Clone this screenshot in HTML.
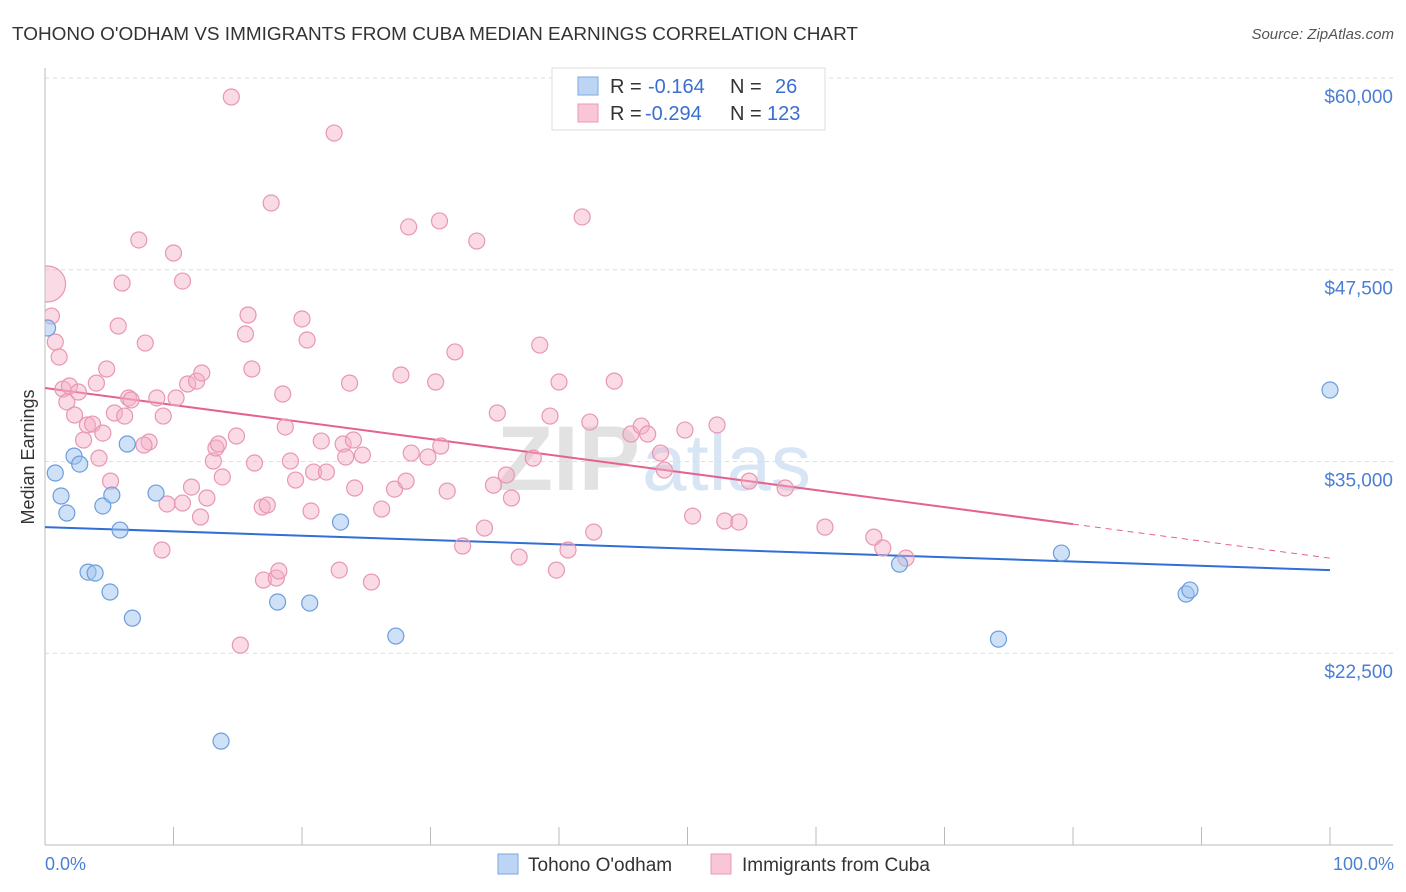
<!DOCTYPE html>
<html><head><meta charset="utf-8">
<style>
body{margin:0;background:#fff;font-family:"Liberation Sans",sans-serif;}
svg{display:block}
</style></head>
<body>
<svg id="chart" width="1406" height="892">
<defs><clipPath id="plotclip"><rect x="45" y="60" width="1360" height="790"/></clipPath></defs>
<text x="12" y="40" font-size="18" fill="#333" textLength="846" lengthAdjust="spacingAndGlyphs">TOHONO O'ODHAM VS IMMIGRANTS FROM CUBA MEDIAN EARNINGS CORRELATION CHART</text>
<text x="1394" y="39" font-size="15" fill="#555" text-anchor="end" font-style="italic">Source: ZipAtlas.com</text>
<text x="640" y="490" font-size="92" fill="#e2e2e2" font-weight="bold" text-anchor="end">ZIP</text>
<text x="642" y="490" font-size="80" fill="#d8e5f5">atlas</text>
<g id="grid"></g>
<g id="axes"></g>
<g id="trend"></g>
<g id="points" clip-path="url(#plotclip)"></g>
<text transform="translate(34,457) rotate(-90)" font-size="18" fill="#333" text-anchor="middle">Median Earnings</text>
<text x="45" y="870" font-size="18" fill="#4a7fd4">0.0%</text>
<text x="1394" y="870" font-size="18" fill="#4a7fd4" text-anchor="end">100.0%</text>
<g>
<rect x="552" y="68" width="273" height="62" fill="#fff" stroke="#ddd"/>
<rect x="578" y="77" width="20" height="18" fill="#bcd5f5" stroke="#7aa6e0"/>
<rect x="578" y="104" width="20" height="18" fill="#f8c6d6" stroke="#e99ab5"/>
<text x="610" y="93" font-size="20" fill="#333">R =</text>
<text x="648" y="93" font-size="20" fill="#3a6fd0">-0.164</text>
<text x="730" y="93" font-size="20" fill="#333">N =</text>
<text x="775" y="93" font-size="20" fill="#3a6fd0">26</text>
<text x="610" y="120" font-size="20" fill="#333">R =</text>
<text x="645" y="120" font-size="20" fill="#3a6fd0">-0.294</text>
<text x="730" y="120" font-size="20" fill="#333">N =</text>
<text x="767" y="120" font-size="20" fill="#3a6fd0">123</text>
</g>
<g>
<rect x="498" y="854" width="20" height="20" fill="#bcd5f5" stroke="#7aa6e0"/>
<text x="528" y="871" font-size="19" fill="#333">Tohono O'odham</text>
<rect x="711" y="854" width="20" height="20" fill="#f8c6d6" stroke="#e99ab5"/>
<text x="742" y="871" font-size="19" fill="#333">Immigrants from Cuba</text>
</g>
</svg>
<script>
const yTicks=[22500,35000,47500,60000];
const yTickLabels=["$22,500","$35,000","$47,500","$60,000"];
const blueX=[0.2,0.8,1.25,1.7,2.26,2.7,3.35,3.9,4.5,5.2,5.06,6.4,5.84,6.8,8.64,13.7,18.1,20.6,23.0,27.3,74.2,79.1,66.5,88.8,89.1,100];
const blueY=[43700,34250,32750,31640,35350,34830,27790,27730,32100,32810,26490,36140,30530,24790,32940,16770,25840,25770,31050,23620,23420,29030,28310,26360,26620,39660];
const pinkX=[0.2,0.5,0.8,1.1,1.4,1.7,1.9,2.3,2.6,3.0,3.3,3.7,4.0,4.2,4.5,4.8,5.1,5.4,5.7,6.0,6.2,6.5,6.7,7.3,7.8,8.1,7.7,8.7,9.1,9.2,9.5,10.0,10.7,10.2,10.7,11.1,11.4,11.8,12.1,12.2,12.6,13.1,13.3,13.5,13.8,14.5,14.9,15.2,15.6,15.8,16.1,16.3,16.9,17.0,17.3,17.6,18.0,18.2,18.5,18.7,19.1,19.5,20.0,20.4,20.7,20.9,21.5,21.9,22.5,22.9,23.2,23.4,23.7,24.0,24.1,24.7,25.4,26.2,27.2,27.7,28.1,28.3,28.5,29.8,30.4,30.7,30.8,31.3,31.9,32.5,33.6,34.2,34.9,35.2,35.9,36.3,36.9,38.0,38.5,39.3,39.8,40.0,40.7,41.8,42.4,42.7,44.3,45.6,46.4,46.9,47.9,48.2,49.8,50.4,52.3,52.9,54.0,54.8,57.6,60.7,64.5,65.2,67.0];
const pinkY=[46570,44480,42790,41810,39720,38880,39920,38030,39530,36400,37380,37440,40110,35220,36850,41030,33720,38160,43830,46630,37960,39140,39010,49440,42720,36270,36070,39140,29230,37960,32230,48590,46760,39140,32290,40050,33330,40240,31380,40770,32620,35030,35880,36140,33990,58760,36660,23030,43310,44550,41030,34900,32030,27270,32160,51850,27400,27860,39400,37250,35030,33790,44290,42920,31770,34310,36330,34310,56410,27920,36140,35290,40110,36400,33270,35420,27140,31900,33200,40640,33720,50290,35550,35290,40180,50680,36010,33070,42140,29490,49370,30660,33460,38160,34120,32620,28770,35220,42590,37960,27920,40180,29230,50940,37570,30400,40240,36790,37310,36790,35550,34440,37050,31440,37380,31120,31050,33720,33270,30720,30070,29360,28700];
const blueTrend=[30725,27920];
const pinkTrend=[39790,28700];
const pinkSolidEnd=80;
const X0=45,X1=1330,YT=68,YB=845,VMIN=10000,VMAX=60650;
const sx=v=>X0+(v/100)*(X1-X0);
const sy=v=>YB-(v-VMIN)/(VMAX-VMIN)*(YB-YT);
const NS="http://www.w3.org/2000/svg";
function mk(tag,parent,attrs){const e=document.createElementNS(NS,tag);for(const k in attrs)e.setAttribute(k,attrs[k]);parent.appendChild(e);return e;}
const grid=document.getElementById('grid'),axes=document.getElementById('axes'),trend=document.getElementById('trend'),pts=document.getElementById('points');
yTicks.forEach((t,i)=>{
 const g=mk('line',grid,{x1:X0,x2:1393,y1:sy(t),y2:sy(t),stroke:'#ddd','stroke-dasharray':'4,4'});
 
 
 const l=mk('text',grid,{x:1393,y:sy(t)+25,'font-size':19,fill:'#4a7fd4','text-anchor':'end'});
 l.textContent=yTickLabels[i];
 
 
});
const ax=mk('line',axes,{x1:X0,x2:X0,y1:YT,y2:YB,stroke:'#bbb'});


const bx=mk('line',axes,{x1:X0,x2:1393,y1:YB,y2:YB,stroke:'#bbb'});


for(let i=0;i<=10;i++){
 const t=mk('line',axes,{x1:sx(i*10),x2:sx(i*10),y1:YB,y2:YB-18,stroke:'#bbb'});
 
 
}
pinkX.forEach((x,i)=>{
 const c=mk('circle',pts,{cx:sx(x),cy:sy(pinkY[i]),r:i===0?18:8,fill:'rgba(244,172,198,0.45)',stroke:'#e897b3','stroke-width':1.2});
 
 
});
blueX.forEach((x,i)=>{
 const c=mk('circle',pts,{cx:sx(x),cy:sy(blueY[i]),r:8,fill:'rgba(160,195,240,0.5)',stroke:'#6d9ddd','stroke-width':1.2});
 
 
});
const bt=mk('line',trend,{x1:sx(0),y1:sy(blueTrend[0]),x2:sx(100),y2:sy(blueTrend[1]),stroke:'#2f6fd6','stroke-width':2});


const pm=pinkTrend[0]+(pinkTrend[1]-pinkTrend[0])*pinkSolidEnd/100;
const pt=mk('line',trend,{x1:sx(0),y1:sy(pinkTrend[0]),x2:sx(pinkSolidEnd),y2:sy(pm),stroke:'#e5628f','stroke-width':2});


const pd=mk('line',trend,{x1:sx(pinkSolidEnd),y1:sy(pm),x2:sx(100),y2:sy(pinkTrend[1]),stroke:'#e5628f','stroke-width':1,'stroke-dasharray':'6,5'});


</script>
</body></html>
